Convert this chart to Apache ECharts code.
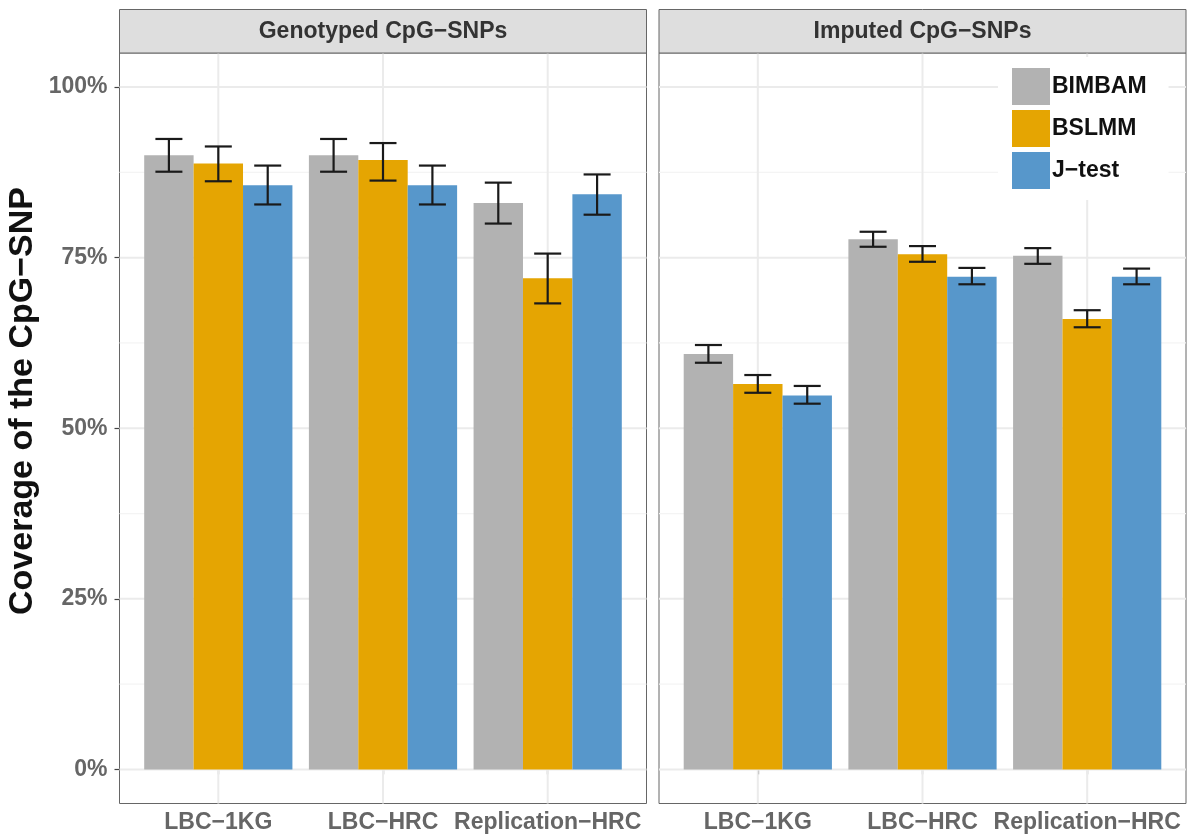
<!DOCTYPE html>
<html>
<head>
<meta charset="utf-8">
<script src="https://cdn.jsdelivr.net/npm/echarts@6/dist/echarts.min.js"></script>
<style>
html,body{margin:0;padding:0;background:#fff;}
#chart{width:1188px;height:836px;}
</style>
</head>
<body>
<div id="chart"></div>
<script>
// ---------- data ----------
const categories = ['LBC−1KG', 'LBC−HRC', 'Replication−HRC'];
const panels = ['Genotyped CpG−SNPs', 'Imputed CpG−SNPs'];
const methods = ['BIMBAM', 'BSLMM', 'J−test'];
const yTitle = 'Coverage of the CpG−SNP';
const yTicks = [0, 25, 50, 75, 100];
const yMinor = [12.5, 37.5, 62.5, 87.5];

// Genotyped CpG-SNPs
const genoBIMBAM = [90.0, 90.0, 83.0];
const genoBIMBAMLow = [87.6, 87.6, 80.0];
const genoBIMBAMHigh = [92.4, 92.4, 86.0];
const genoBSLMM = [88.8, 89.3, 72.0];
const genoBSLMMLow = [86.2, 86.3, 68.3];
const genoBSLMMHigh = [91.3, 91.8, 75.6];
const genoJtest = [85.6, 85.6, 84.3];
const genoJtestLow = [82.8, 82.8, 81.3];
const genoJtestHigh = [88.5, 88.5, 87.2];

// Imputed CpG-SNPs
const impBIMBAM = [60.9, 77.7, 75.3];
const impBIMBAMLow = [59.6, 76.6, 74.1];
const impBIMBAMHigh = [62.2, 78.8, 76.4];
const impBSLMM = [56.5, 75.5, 66.0];
const impBSLMMLow = [55.2, 74.4, 64.8];
const impBSLMMHigh = [57.8, 76.7, 67.3];
const impJtest = [54.8, 72.2, 72.2];
const impJtestLow = [53.6, 71.1, 71.1];
const impJtestHigh = [56.2, 73.5, 73.4];

// ---------- layout / style ----------
const colors = ['#B2B2B2', '#E5A502', '#5797CB'];
const FONT = '"Liberation Sans", Arial, Helvetica, sans-serif';
const panelLeft = [119.5, 659];
const panelW = 527;
const panelTop = 53;
const panelH = 750.5;
const barW = 0.3 * panelW / 3.2;
const capHalf = 13.5;

const panelData = [
  { vals: [genoBIMBAM, genoBSLMM, genoJtest], lo: [genoBIMBAMLow, genoBSLMMLow, genoJtestLow], hi: [genoBIMBAMHigh, genoBSLMMHigh, genoJtestHigh] },
  { vals: [impBIMBAM, impBSLMM, impJtest], lo: [impBIMBAMLow, impBSLMMLow, impJtestLow], hi: [impBIMBAMHigh, impBSLMMHigh, impJtestHigh] }
];

const grids = [], xAxes = [], yAxes = [], series = [], graphics = [];

panelLeft.forEach((left, p) => {
  grids.push({ left: left, top: panelTop, width: panelW, height: panelH, show: true,
    backgroundColor: '#fff', borderColor: '#666', borderWidth: 1, containLabel: false });
  xAxes.push({
    type: 'value', gridIndex: p, min: 0.4, max: 3.6,
    axisLine: { show: false },
    splitLine: { show: false },
    axisTick: { show: true, customValues: [1, 2, 3], length: 5, lineStyle: { color: '#444', width: 1.2 } },
    axisLabel: { customValues: [1, 2, 3], formatter: v => categories[Math.round(v) - 1],
      fontFamily: FONT, fontWeight: 'bold', fontSize: 23, color: '#666', margin: 8 }
  });
  yAxes.push({
    type: 'value', gridIndex: p, min: -5, max: 105,
    axisLine: { show: false },
    splitLine: { show: false },
    axisTick: { show: p === 0, customValues: yTicks, length: 5, lineStyle: { color: '#444', width: 1.2 } },
    axisLabel: { show: p === 0, customValues: yTicks, formatter: v => v + '%',
      fontFamily: FONT, fontWeight: 'bold', fontSize: 23, color: '#666', margin: 12 }
  });

  // grid lines (major + minor horizontal)
  const hData = yTicks.map(v => [2, v, 1]).concat(yMinor.map(v => [2, v, 0]));
  series.push({
    type: 'custom', xAxisIndex: p, yAxisIndex: p, z: 1, silent: true,
    data: hData,
    renderItem: (params, api) => {
      const cs = params.coordSys;
      const y = api.coord([api.value(0), api.value(1)])[1];
      const major = api.value(2) === 1;
      return { type: 'line', shape: { x1: cs.x, y1: y, x2: cs.x + cs.width, y2: y },
        style: { stroke: major ? '#EBEBEB' : '#F4F4F4', lineWidth: major ? 2 : 1.2 } };
    }
  });
  // vertical grid lines at categories
  series.push({
    type: 'custom', xAxisIndex: p, yAxisIndex: p, z: 1, silent: true,
    data: [1, 2, 3].map(v => [v, 50]),
    renderItem: (params, api) => {
      const cs = params.coordSys;
      const x = api.coord([api.value(0), api.value(1)])[0];
      return { type: 'line', shape: { x1: x, y1: cs.y, x2: x, y2: cs.y + cs.height },
        style: { stroke: '#EBEBEB', lineWidth: 2 } };
    }
  });

  const d = panelData[p];
  methods.forEach((m, k) => {
    series.push({
      name: m, type: 'bar', xAxisIndex: p, yAxisIndex: p, z: 2,
      barWidth: barW, barGap: '0%',
      itemStyle: { color: colors[k] },
      data: d.vals[k].map((v, i) => [i + 1, v])
    });
  });
  // error bars
  const eData = [];
  methods.forEach((m, k) => {
    d.vals[k].forEach((v, i) => eData.push([i + 1, d.lo[k][i], d.hi[k][i], k]));
  });
  series.push({
    type: 'custom', xAxisIndex: p, yAxisIndex: p, z: 3, silent: true,
    encode: { x: 0, y: [1, 2] },
    data: eData,
    renderItem: (params, api) => {
      const x = api.value(0), k = api.value(3);
      const pLo = api.coord([x, api.value(1)]);
      const pHi = api.coord([x, api.value(2)]);
      const cx = pLo[0] + (k - 1) * barW;
      const st = { stroke: '#1a1a1a', lineWidth: 2.2 };
      return { type: 'group', children: [
        { type: 'line', shape: { x1: cx, y1: pLo[1], x2: cx, y2: pHi[1] }, style: st },
        { type: 'line', shape: { x1: cx - capHalf, y1: pLo[1], x2: cx + capHalf, y2: pLo[1] }, style: st },
        { type: 'line', shape: { x1: cx - capHalf, y1: pHi[1], x2: cx + capHalf, y2: pHi[1] }, style: st }
      ]};
    }
  });

  // strip
  graphics.push({ type: 'rect', shape: { x: left, y: 9.5, width: panelW, height: panelTop - 9.5 },
    style: { fill: '#DEDEDE', stroke: '#666', lineWidth: 1 }, z: 5 });
  graphics.push({ type: 'text', x: left + panelW / 2, y: (9.5 + panelTop) / 2, z: 6,
    style: { text: panels[p], fill: '#333', font: 'bold 23px ' + FONT, textAlign: 'center', textVerticalAlign: 'middle' } });
});

// y-axis title
graphics.push({ type: 'text', x: 23, y: 401, rotation: Math.PI / 2, z: 6,
  style: { text: yTitle, fill: '#111', font: 'bold 34px ' + FONT, textAlign: 'center', textVerticalAlign: 'middle' } });

const chart = echarts.init(document.getElementById('chart'), null, { renderer: 'canvas' });
chart.setOption({
  animation: false,
  backgroundColor: '#fff',
  grid: grids,
  xAxis: xAxes,
  yAxis: yAxes,
  legend: {
    data: methods, orient: 'vertical', left: 998, top: 57,
    itemWidth: 38, itemHeight: 37, itemGap: 5,
    padding: [11, 22, 11, 14],
    backgroundColor: '#fff',
    icon: 'rect',
    textStyle: { fontFamily: FONT, fontWeight: 'bold', fontSize: 23, color: '#111', padding: [0, 0, 0, -3] },
    selectedMode: false
  },
  graphic: graphics,
  series: series
});
</script>
</body>
</html>
